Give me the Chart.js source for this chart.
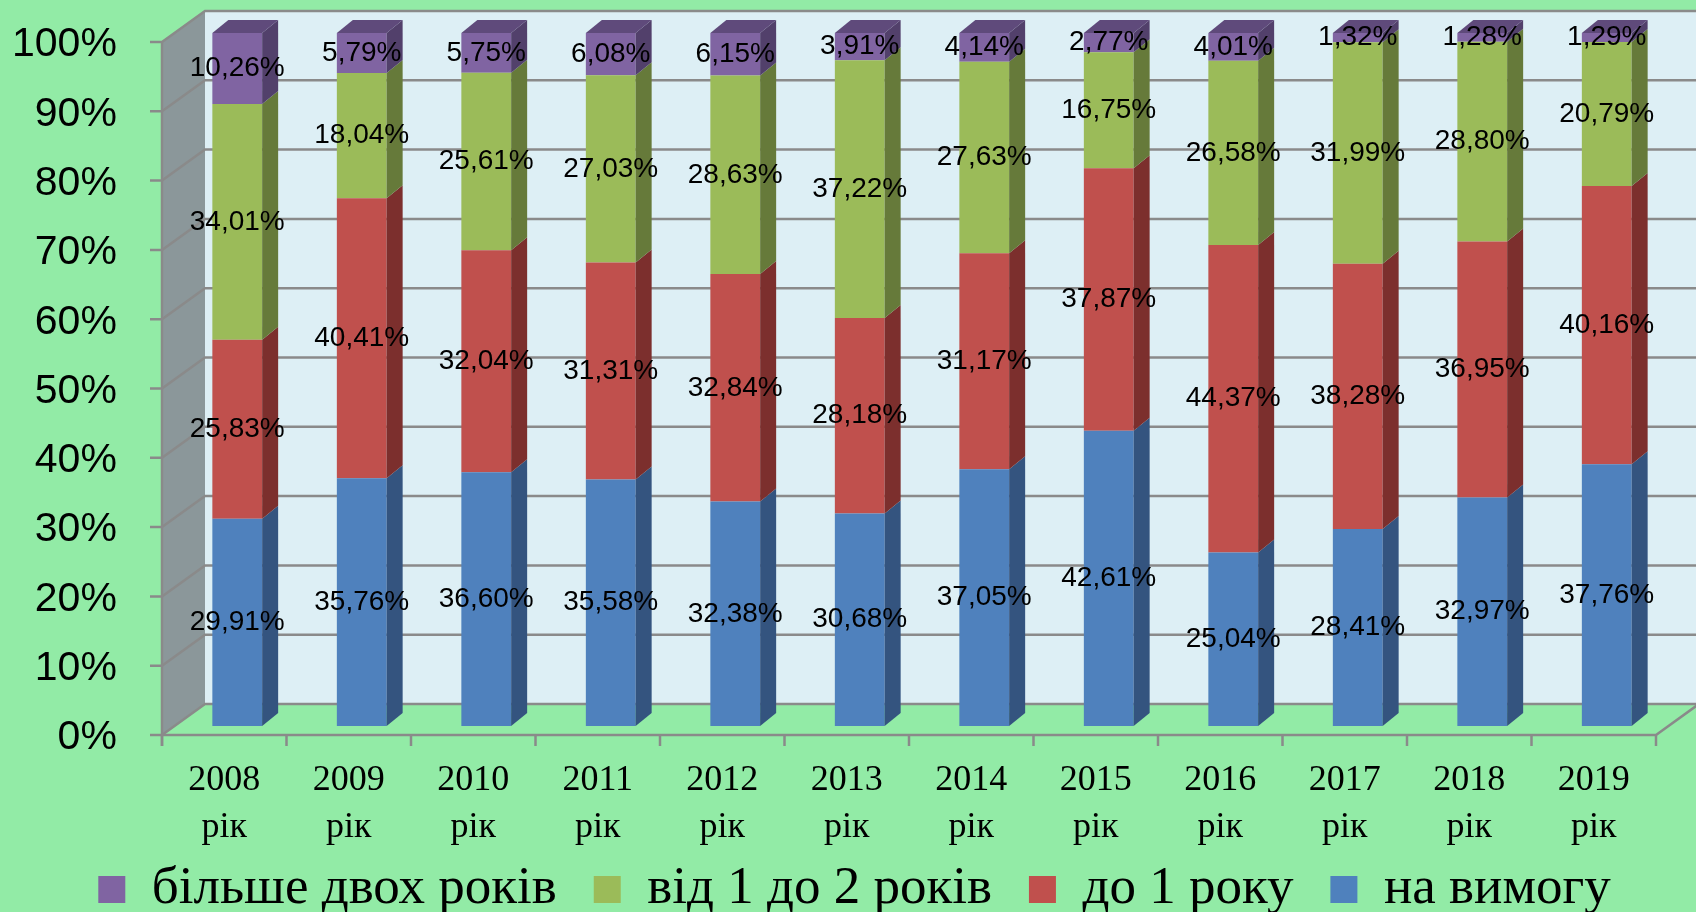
<!DOCTYPE html>
<html>
<head>
<meta charset="utf-8">
<script src="https://cdn.jsdelivr.net/npm/chart.js@4.4.0/dist/chart.umd.min.js"></script>
<style>
    html, body { margin: 0; padding: 0; background: #92eba6; }
    #wrap { width: 1696px; height: 912px; }
</style>
</head>
<body>
<div id="wrap"><canvas id="termChart" width="1696" height="912"></canvas></div>
<script>
// DATA

const years = ["2008", "2009", "2010", "2011", "2012", "2013", "2014", "2015", "2016", "2017", "2018", "2019"];

const onDemand = [29.91, 35.76, 36.60, 35.58, 32.38, 30.68, 37.05, 42.61, 25.04, 28.41, 32.97, 37.76];
const upToOneYear = [25.83, 40.41, 32.04, 31.31, 32.84, 28.18, 31.17, 37.87, 44.37, 38.28, 36.95, 40.16];
const oneToTwoYears = [34.01, 18.04, 25.61, 27.03, 28.63, 37.22, 27.63, 16.75, 26.58, 31.99, 28.80, 20.79];
const overTwoYears = [10.26, 5.79, 5.75, 6.08, 6.15, 3.91, 4.14, 2.77, 4.01, 1.32, 1.28, 1.29];

const yTicks = [0, 10, 20, 30, 40, 50, 60, 70, 80, 90, 100];

// 3D look: offsets from the bar front plane
const FRONT = { dx: -13, dy: 9 };
const BACK = { dx: 30, dy: -22 };
const DEPTH = { dx: 16, dy: -13 };

const LINE_GREY = "#8a8a8a";

const sideColors = ["#34547f", "#7c2f2d", "#667a3a", "#52406b"];
const topColor = "#5f4a7b";

// =========================
// Walls, floor, gridlines
// =========================

const wallsPlugin = {
    id: "walls3d",
    beforeDraw(chart) {
        const { ctx, chartArea, scales } = chart;
        const yScale = scales.y;
        const W = chart.width;

        const fx = chartArea.left + FRONT.dx;
        const bx = chartArea.left + BACK.dx;
        const fy = (v) => yScale.getPixelForValue(v) + FRONT.dy;
        const by = (v) => yScale.getPixelForValue(v) + BACK.dy;
        const frx = chartArea.right + FRONT.dx;
        const brx = chartArea.right + BACK.dx;

        ctx.save();

        // back wall
        ctx.fillStyle = "#ddeff5";
        ctx.fillRect(bx, by(100), W - bx, by(0) - by(100));

        // left wall
        ctx.fillStyle = "#8b979a";
        ctx.beginPath();
        ctx.moveTo(fx, fy(100));
        ctx.lineTo(bx, by(100));
        ctx.lineTo(bx, by(0));
        ctx.lineTo(fx, fy(0));
        ctx.closePath();
        ctx.fill();

        // floor
        ctx.fillStyle = "#92eba6";
        ctx.beginPath();
        ctx.moveTo(fx, fy(0));
        ctx.lineTo(bx, by(0));
        ctx.lineTo(brx, by(0));
        ctx.lineTo(frx, fy(0));
        ctx.closePath();
        ctx.fill();

        ctx.strokeStyle = LINE_GREY;
        ctx.lineWidth = 2.5;

        yTicks.forEach((v) => {
            ctx.beginPath();
            ctx.moveTo(fx - 12, fy(v));
            ctx.lineTo(fx, fy(v));
            ctx.lineTo(bx, by(v));
            ctx.lineTo(W, by(v));
            ctx.stroke();
        });

        // wall front edge
        ctx.beginPath();
        ctx.moveTo(fx, fy(100));
        ctx.lineTo(fx, fy(0) + 11);
        ctx.stroke();

        // floor front edge
        ctx.beginPath();
        ctx.moveTo(fx, fy(0));
        ctx.lineTo(frx, fy(0));
        ctx.lineTo(brx, by(0));
        ctx.stroke();

        // category tick marks
        const step = chartArea.width / years.length;
        for (let k = 0; k <= years.length; k++) {
            const x = chartArea.left + k * step + FRONT.dx;
            ctx.beginPath();
            ctx.moveTo(x, fy(0));
            ctx.lineTo(x, fy(0) + 11);
            ctx.stroke();
        }

        ctx.restore();
    },
};

// =========================
// Bar sides, tops and labels
// =========================

const barsPlugin = {
    id: "bars3d",
    afterDatasetsDraw(chart) {
        const { ctx } = chart;
        const last = chart.data.datasets.length - 1;

        ctx.save();

        chart.data.datasets.forEach((ds, i) => {
            const meta = chart.getDatasetMeta(i);
            meta.data.forEach((bar) => {
                const { x, y, base, width } = bar.getProps(["x", "y", "base", "width"], true);
                const left = x - width / 2;
                const right = x + width / 2;

                ctx.fillStyle = sideColors[i];
                ctx.beginPath();
                ctx.moveTo(right, y);
                ctx.lineTo(right + DEPTH.dx, y + DEPTH.dy);
                ctx.lineTo(right + DEPTH.dx, base + DEPTH.dy);
                ctx.lineTo(right, base);
                ctx.closePath();
                ctx.fill();

                if (i === last) {
                    ctx.fillStyle = topColor;
                    ctx.beginPath();
                    ctx.moveTo(left, y);
                    ctx.lineTo(left + DEPTH.dx, y + DEPTH.dy);
                    ctx.lineTo(right + DEPTH.dx, y + DEPTH.dy);
                    ctx.lineTo(right, y);
                    ctx.closePath();
                    ctx.fill();
                }
            });
        });

        ctx.fillStyle = "#000000";
        ctx.font = "28px 'Liberation Sans'";
        ctx.textAlign = "center";
        ctx.textBaseline = "middle";

        chart.data.datasets.forEach((ds, i) => {
            const meta = chart.getDatasetMeta(i);
            meta.data.forEach((bar, j) => {
                const { x, y, base } = bar.getProps(["x", "y", "base"], true);
                const text = ds.data[j].toFixed(2).replace(".", ",") + "%";
                ctx.fillText(text, x, (y + base) / 2);
            });
        });

        ctx.restore();
    },
};

const ctx = document.getElementById("termChart");

new Chart(ctx, {
    type: "bar",

    data: {
        labels: years.map((y) => [y, "рік"]),

        datasets: [
            { label: "на вимогу", data: onDemand, backgroundColor: "#4f81bd" },
            { label: "до 1 року", data: upToOneYear, backgroundColor: "#c0504d" },
            { label: "від 1 до 2 років", data: oneToTwoYears, backgroundColor: "#9bbb59" },
            { label: "більше двох років", data: overTwoYears, backgroundColor: "#8064a2" },
        ],
    },

    options: {
        responsive: false,
        animation: false,

        datasets: {
            bar: {
                barPercentage: 0.4,
                categoryPercentage: 1,
                borderWidth: 0,
            },
        },

        layout: {
            padding: { top: 33, right: 27, bottom: -14, left: 40 },
        },

        plugins: {
            legend: {
                display: true,
                position: "bottom",
                reverse: true,
                labels: {
                    color: "#000000",
                    font: { family: "'Liberation Serif'", size: 53 },
                    boxWidth: 27,
                    boxHeight: 27,
                    padding: 37,
                },
            },
            tooltip: { enabled: false },
        },

        scales: {
            x: {
                stacked: true,
                grid: { display: false, drawTicks: false },
                border: { display: false },
                ticks: {
                    color: "#000000",
                    font: { family: "'Liberation Serif'", size: 36, lineHeight: 1.3 },
                    labelOffset: -13,
                    // mirror keeps the two-line labels from being clipped
                    mirror: true,
                    padding: -78,
                    maxRotation: 0,
                },
                afterFit: (scale) => {
                    scale.height = 100;
                },
            },

            y: {
                stacked: true,
                min: 0,
                max: 100,
                grid: { display: false, drawTicks: false },
                border: { display: false },
                ticks: {
                    stepSize: 10,
                    color: "#000000",
                    font: { family: "'Liberation Sans'", size: 41 },
                    labelOffset: 12,
                    // mirrored + far: right-aligned, not clipped to the axis box
                    mirror: true,
                    crossAlign: "far",
                    padding: -163,
                    callback: function (value) {
                        return value + "%";
                    },
                },
                afterFit: (scale) => {
                    scale.width = 135;
                    scale.paddingTop = 0;
                    scale.paddingBottom = 0;
                },
            },
        },
    },

    plugins: [wallsPlugin, barsPlugin],
});
</script>
</body>
</html>
